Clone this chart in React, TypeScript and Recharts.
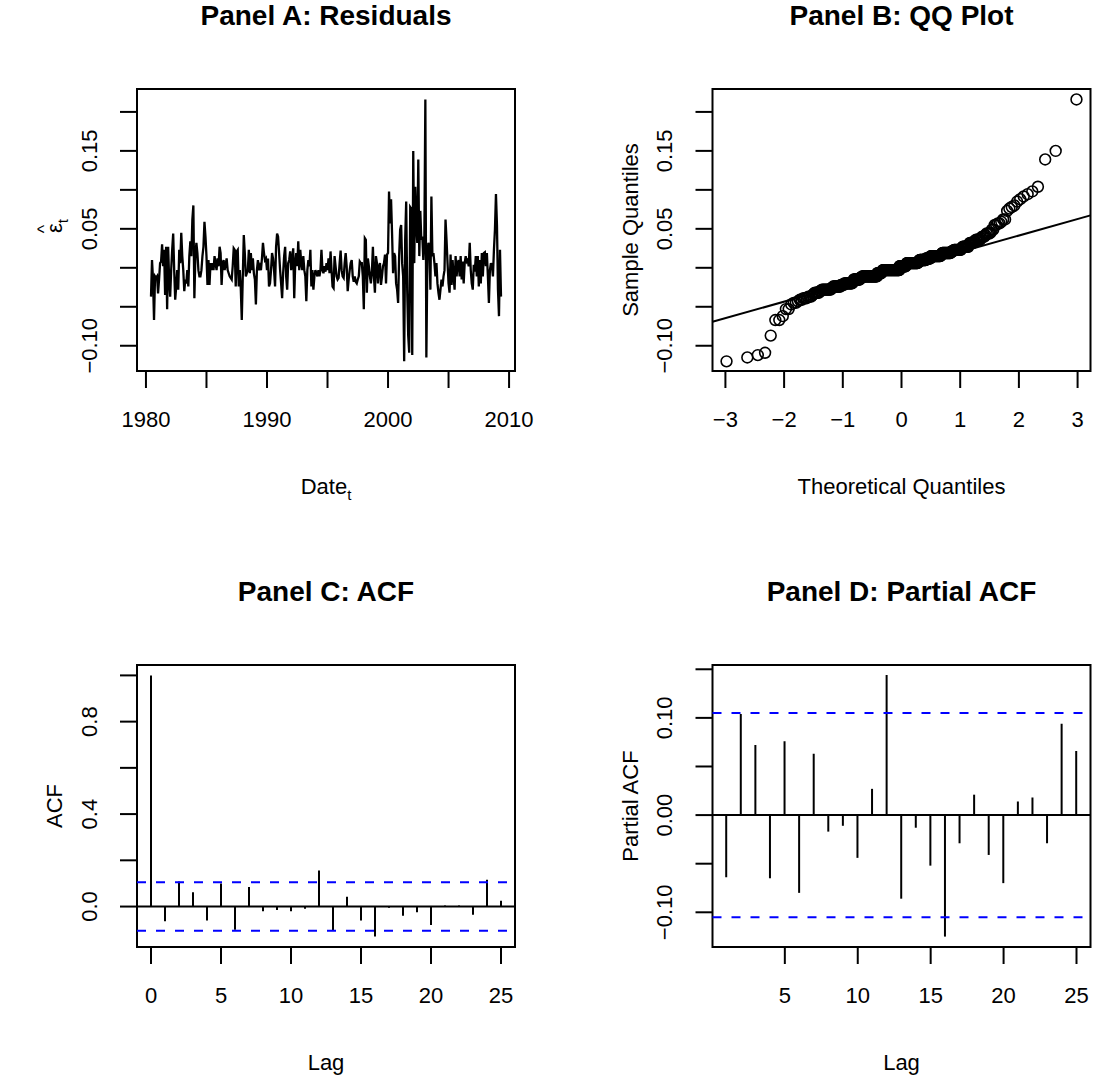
import React from 'react';
import {
  LineChart, Line, XAxis, YAxis, ReferenceArea, ReferenceLine,
  ScatterChart, Scatter, ComposedChart, Bar,
} from 'recharts';

// monthly residuals, Jun 1980 - Mar 1995
const residualsEarly = [
  -0.037, 0.010, -0.015, -0.067, -0.011, -0.013, -0.011, -0.033, -0.015, 0.006, 0.008, 0.030,
  0.002, 0.023, -0.035, 0.027, -0.053, 0.027, -0.015, -0.037, -0.003, 0.023, 0.044, -0.003,
  -0.041, -0.024, -0.003, -0.028, 0.023, 0.006, 0.045, 0.015, -0.003, -0.030, -0.015, -0.020,
  -0.003, -0.024, 0.015, 0.034, 0.015, 0.062, 0.080, -0.039, 0.015, 0.032, 0.019, -0.003,
  -0.011, -0.011, -0.003, 0.015, 0.027, 0.059, 0.040, 0.015, -0.022, 0.010, -0.022, 0.006,
  -0.003, 0.006, -0.003, 0.015, 0.006, -0.003, 0.012, 0.002, 0.027, 0.019, -0.022, 0.006,
  0.010, -0.003, 0.004, 0.012, -0.003, -0.007, -0.011, -0.013, -0.015, 0.002, 0.025, 0.023,
  -0.024, 0.021, 0.023, -0.024, -0.003, -0.026, -0.067, -0.011, 0.042, 0.019, -0.011, -0.007,
  -0.003, 0.023, -0.007, 0.019, -0.003, 0.012, -0.007, -0.015, -0.047, -0.003, 0.010, -0.003,
  0.002, -0.003, 0.012, 0.032, 0.019, 0.010, 0.012, -0.003, 0.012, -0.024, -0.020, -0.003,
  0.019, 0.012, -0.003, -0.024, 0.027, 0.044, 0.040, 0.019, -0.003, -0.020, -0.039, -0.007,
  0.015, 0.027, -0.011, -0.028, 0.006, 0.010, 0.021, -0.003, 0.012, 0.025, -0.039, 0.006,
  0.019, 0.002, 0.034, -0.003, 0.023, 0.006, -0.003, 0.015, -0.003, -0.011, -0.043, -0.003,
  0.010, 0.002, 0.023, -0.024, -0.003, -0.028, -0.011, -0.003, -0.007, -0.011, -0.003, -0.011,
  -0.003, 0.023, -0.003, -0.007, 0.002, -0.005, 0.006, -0.003, 0.012, -0.007, 0.021, -0.003,
];

// monthly residuals, Apr 1995 - May 2009
const residualsLate = [
  -0.024, -0.026, 0.015, 0.002, -0.011, -0.015, -0.013, 0.006, 0.022, -0.003, -0.011, -0.013,
  0.006, 0.019, 0.002, -0.030, -0.015, -0.003, 0.006, 0.010, -0.011, -0.018, -0.011, -0.018,
  -0.020, -0.015, -0.011, 0.008, 0.006, 0.006, -0.011, -0.053, 0.038, 0.036, -0.032, 0.012,
  0.002, -0.011, -0.020, -0.005, 0.027, -0.011, -0.032, 0.015, 0.006, -0.020, 0.002, 0.006,
  -0.022, -0.011, 0.002, 0.006, 0.017, -0.020, 0.017, 0.019, 0.098, 0.057, 0.088, 0.044,
  -0.007, 0.019, 0.015, -0.020, -0.028, -0.045, 0.015, 0.049, 0.055, 0.006, -0.011, -0.120,
  0.036, 0.085, -0.028, -0.087, -0.109, 0.078, 0.076, -0.112, 0.150, 0.006, 0.104, 0.057,
  0.032, 0.139, 0.015, 0.073, 0.036, 0.040, 0.010, 0.036, 0.216, -0.115, 0.010, 0.032,
  0.027, -0.028, 0.0915, 0.015, 0.019, 0.006, -0.011, 0.006, -0.020, -0.032, -0.041, -0.028,
  -0.015, -0.024, -0.011, -0.003, 0.062, 0.036, 0.006, -0.020, -0.032, 0.017, -0.022, 0.010,
  -0.011, -0.028, 0.015, -0.011, 0.006, 0.010, -0.011, 0.015, -0.015, 0.008, -0.020, 0.006,
  0.015, 0.008, 0.010, 0.002, 0.032, -0.003, -0.020, -0.028, 0.004, -0.005, 0.015, -0.011,
  0.015, -0.024, 0.010, -0.020, 0.019, -0.011, 0.019, 0.020, 0.002, 0.019, -0.011, -0.045,
  -0.003, 0.006, 0.002, -0.011, 0.023, 0.049, 0.0945, 0.055, -0.028, -0.062, 0.023, -0.037,
];

const seriesStart = 1980 + 5 / 12;

const acfLags = [0, 1, 2, 3, 4, 5, 6, 7, 8, 9, 10, 11, 12, 13, 14, 15, 16, 17, 18, 19, 20, 21, 22, 23, 24, 25];
const acfValues = [
  1.0, -0.064, 0.108, 0.062, -0.06, 0.1, -0.1, 0.085, -0.02, -0.015, -0.02, -0.01, 0.156,
  -0.105, 0.042, -0.06, -0.13, -0.005, -0.04, -0.025, -0.08, 0.004, 0.005, -0.035, 0.116, 0.025,
];
const pacfLags = [1, 2, 3, 4, 5, 6, 7, 8, 9, 10, 11, 12, 13, 14, 15, 16, 17, 18, 19, 20, 21, 22, 23, 24, 25];
const pacfValues = [
  -0.064, 0.104, 0.072, -0.065, 0.076, -0.08, 0.063, -0.017, -0.011, -0.044, 0.027, 0.144,
  -0.086, -0.013, -0.052, -0.125, -0.029, 0.021, -0.041, -0.07, 0.014, 0.018, -0.029, 0.094, 0.066,
];
const ciBound = 0.105;

// qqline
const qqLineIntercept = -0.001;
const qqLineSlope = 0.0212;

const yearTicks = [1980, 1985, 1990, 1995, 2000, 2005, 2010];
const yearLabels: [number, string][] = [[1980, '1980'], [1990, '1990'], [2000, '2000'], [2010, '2010']];
const residTicks = [-0.1, -0.05, 0, 0.05, 0.1, 0.15, 0.2];
const residLabels: [number, string][] = [[-0.1, '\u22120.10'], [0.05, '0.05'], [0.15, '0.15']];
const qqTicks = [-3, -2, -1, 0, 1, 2, 3];
const qqLabels: [number, string][] = qqTicks.map((t) => [t, t < 0 ? '\u2212' + Math.abs(t) : String(t)]);
const acfTicks = [0, 0.2, 0.4, 0.6, 0.8, 1.0];
const acfLabels: [number, string][] = [[0, '0.0'], [0.4, '0.4'], [0.8, '0.8']];
const pacfTicks = [-0.1, -0.05, 0, 0.05, 0.1, 0.15];
const pacfLabels: [number, string][] = [[-0.1, '\u22120.10'], [0, '0.00'], [0.1, '0.10']];
const lagTicksC = [0, 5, 10, 15, 20, 25];
const lagTicksD = [5, 10, 15, 20, 25];
const lagLabelsC: [number, string][] = lagTicksC.map((t) => [t, String(t)]);
const lagLabelsD: [number, string][] = lagTicksD.map((t) => [t, String(t)]);

// inverse normal cdf (Acklam) for the theoretical quantiles
function qnorm(p: number) {
  const a = [-39.69683028665376, 220.9460984245205, -275.9285104469687, 138.357751867269, -30.66479806614716, 2.506628277459239];
  const b = [-54.47609879822406, 161.5858368580409, -155.6989798598866, 66.80131188771972, -13.28068155288572];
  const c = [-0.007784894002430293, -0.3223964580411365, -2.400758277161838, -2.549732539343734, 4.374664141464968, 2.938163982698783];
  const d = [0.007784695709041462, 0.3224671290700398, 2.445134137142996, 3.754408661907416];
  const lo = 0.02425;
  if (p < lo || p > 1 - lo) {
    const q = Math.sqrt(-2 * Math.log(p < lo ? p : 1 - p));
    const v = (((((c[0] * q + c[1]) * q + c[2]) * q + c[3]) * q + c[4]) * q + c[5]) /
      ((((d[0] * q + d[1]) * q + d[2]) * q + d[3]) * q + 1);
    return p < lo ? v : -v;
  }
  const q = p - 0.5;
  const r = q * q;
  return (((((a[0] * r + a[1]) * r + a[2]) * r + a[3]) * r + a[4]) * r + a[5]) * q /
    (((((b[0] * r + b[1]) * r + b[2]) * r + b[3]) * r + b[4]) * r + 1);
}

const residuals = [...residualsEarly, ...residualsLate];
const residualData = residuals.map((v, i) => ({ t: seriesStart + i / 12, value: v }));
const sortedRes = [...residuals].sort((x, y) => x - y);
const qqData = sortedRes.map((v, i) => ({ x: qnorm((i + 0.5) / sortedRes.length), y: v }));
const acfData = acfLags.map((lag, i) => ({ lag, value: acfValues[i] }));
const pacfData = pacfLags.map((lag, i) => ({ lag, value: pacfValues[i] }));

const FONT = '"Liberation Sans", Arial, Helvetica, sans-serif';
const TICK_FS = 22;
const LAB_FS = 22;
const TITLE_FS = 28;
const BLUE = '#0000FF';

const residDomain = [-0.1324, 0.2294];
const yearDomain = [1979.26, 2010.49];
const qqDomain = [-3.22, 3.22];
const acfDomain = [-0.175, 1.045];
const pacfDomain = [-0.1357, 0.1544];

function findLabel(labels: [number, string][], v: number) {
  const hit = labels.find(([t]) => Math.abs(t - v) < 1e-9);
  return hit ? hit[1] : null;
}

function xTick(labels: [number, string][], baseline: number) {
  return (props: any) => {
    const lab = findLabel(labels, props.payload.value);
    if (!lab) return <g />;
    return (
      <text x={props.x} y={baseline} textAnchor="middle" fontSize={TICK_FS} fontFamily={FONT} fill="#000">
        {lab}
      </text>
    );
  };
}

function yTick(labels: [number, string][], xBase: number) {
  return (props: any) => {
    const lab = findLabel(labels, props.payload.value);
    if (!lab) return <g />;
    return (
      <text
        x={xBase}
        y={props.y}
        transform={`rotate(-90 ${xBase} ${props.y})`}
        textAnchor="middle"
        fontSize={TICK_FS}
        fontFamily={FONT}
        fill="#000"
      >
        {lab}
      </text>
    );
  };
}

type Box = { l: number; t: number; r: number; b: number };
type Place = { left: number; top: number; width: number; height: number };

function frame(p: Place, box: Box) {
  return {
    margin: { top: box.t - p.top, right: p.left + p.width - box.r, bottom: 0, left: 0 },
    yWidth: box.l - p.left,
    xHeight: p.top + p.height - box.b,
    xBase: box.b - p.top + 56,
    yBase: box.l - p.left - 40,
  };
}

const tickLine = { stroke: '#000', strokeWidth: 2 };

const placeA = { left: 0, top: 0, width: 547, height: 538 };
const placeB = { left: 547, top: 0, width: 547, height: 538 };
const placeC = { left: 0, top: 538, width: 547, height: 539 };
const placeD = { left: 547, top: 538, width: 547, height: 539 };
const boxA = { l: 137, t: 89, r: 515, b: 371 };
const boxB = { l: 712.5, t: 89, r: 1090.5, b: 371 };
const boxC = { l: 137, t: 665, r: 515, b: 947 };
const boxD = { l: 712.5, t: 665, r: 1090.5, b: 947 };

function abs(p: Place): React.CSSProperties {
  return { position: 'absolute', left: p.left, top: p.top };
}

function PanelA() {
  const f = frame(placeA, boxA);
  return (
    <div style={abs(placeA)}>
      <LineChart width={placeA.width} height={placeA.height} data={residualData} margin={f.margin}>
        <XAxis type="number" dataKey="t" domain={yearDomain} allowDataOverflow ticks={yearTicks}
          height={f.xHeight} axisLine={false} tickLine={tickLine} tickSize={17} tick={xTick(yearLabels, f.xBase)} />
        <YAxis type="number" domain={residDomain} allowDataOverflow ticks={residTicks}
          width={f.yWidth} axisLine={false} tickLine={tickLine} tickSize={17} tick={yTick(residLabels, f.yBase)} />
        <Line type="linear" dataKey="value" stroke="#000" strokeWidth={2.3} dot={false} isAnimationActive={false} />
        <ReferenceArea x1={yearDomain[0]} x2={yearDomain[1]} y1={residDomain[0]} y2={residDomain[1]}
          fill="none" fillOpacity={0} stroke="#000" strokeWidth={2} ifOverflow="visible" />
      </LineChart>
    </div>
  );
}

function PanelB() {
  const f = frame(placeB, boxB);
  return (
    <div style={abs(placeB)}>
      <ScatterChart width={placeB.width} height={placeB.height} margin={f.margin}>
        <XAxis type="number" dataKey="x" domain={qqDomain} allowDataOverflow ticks={qqTicks}
          height={f.xHeight} axisLine={false} tickLine={tickLine} tickSize={17} tick={xTick(qqLabels, f.xBase)} />
        <YAxis type="number" dataKey="y" domain={residDomain} allowDataOverflow ticks={residTicks}
          width={f.yWidth} axisLine={false} tickLine={tickLine} tickSize={17} tick={yTick(residLabels, f.yBase)} />
        <Scatter data={qqData} isAnimationActive={false}
          shape={(p: any) => <circle cx={p.cx} cy={p.cy} r={5.4} fill="none" stroke="#000" strokeWidth={1.6} />} />
        <ReferenceLine
          segment={[
            { x: qqDomain[0], y: qqLineIntercept + qqLineSlope * qqDomain[0] },
            { x: qqDomain[1], y: qqLineIntercept + qqLineSlope * qqDomain[1] },
          ]}
          stroke="#000" strokeWidth={2} ifOverflow="visible" />
        <ReferenceArea x1={qqDomain[0]} x2={qqDomain[1]} y1={residDomain[0]} y2={residDomain[1]}
          fill="none" fillOpacity={0} stroke="#000" strokeWidth={2} ifOverflow="visible" />
      </ScatterChart>
    </div>
  );
}

function CorrPanel(props: {
  place: Place; box: Box; data: { lag: number; value: number }[]; xDomain: number[]; yDomain: number[];
  xTicks: number[]; xLabels: [number, string][]; yTicks: number[]; yLabels: [number, string][];
}) {
  const { place, box } = props;
  const f = frame(place, box);
  return (
    <div style={abs(place)}>
      <ComposedChart width={place.width} height={place.height} data={props.data} margin={f.margin}>
        <XAxis type="number" dataKey="lag" domain={props.xDomain} allowDataOverflow ticks={props.xTicks}
          height={f.xHeight} axisLine={false} tickLine={tickLine} tickSize={17} tick={xTick(props.xLabels, f.xBase)} />
        <YAxis type="number" domain={props.yDomain} allowDataOverflow ticks={props.yTicks}
          width={f.yWidth} axisLine={false} tickLine={tickLine} tickSize={17} tick={yTick(props.yLabels, f.yBase)} />
        <Bar dataKey="value" fill="#000" barSize={2} isAnimationActive={false} />
        <ReferenceLine y={0} stroke="#000" strokeWidth={2} />
        <ReferenceLine y={ciBound} stroke={BLUE} strokeWidth={2} strokeDasharray="9 10" />
        <ReferenceLine y={-ciBound} stroke={BLUE} strokeWidth={2} strokeDasharray="9 10" />
        <ReferenceArea x1={props.xDomain[0]} x2={props.xDomain[1]} y1={props.yDomain[0]} y2={props.yDomain[1]}
          fill="none" fillOpacity={0} stroke="#000" strokeWidth={2} ifOverflow="visible" />
      </ComposedChart>
    </div>
  );
}

function Texts() {
  const cxL = (boxA.l + boxA.r) / 2;
  const cxR = (boxB.l + boxB.r) / 2;
  const cyTop = (boxA.t + boxA.b) / 2;
  const cyBot = (boxC.t + boxC.b) / 2;
  const title = (x: number, y: number, s: string) => (
    <text x={x} y={y} textAnchor="middle" fontSize={TITLE_FS} fontWeight="bold" fontFamily={FONT}>{s}</text>
  );
  const xlab = (x: number, y: number, s: string) => (
    <text x={x} y={y} textAnchor="middle" fontSize={LAB_FS} fontFamily={FONT}>{s}</text>
  );
  const ylab = (x: number, y: number, s: string) => (
    <text x={x} y={y} transform={`rotate(-90 ${x} ${y})`} textAnchor="middle" fontSize={LAB_FS} fontFamily={FONT}>{s}</text>
  );
  return (
    <svg width={1094} height={1077} style={{ position: 'absolute', left: 0, top: 0, pointerEvents: 'none' }}>
      {title(cxL, boxA.t - 64, 'Panel A: Residuals')}
      {title(cxR, boxB.t - 64, 'Panel B: QQ Plot')}
      {title(cxL, boxC.t - 64, 'Panel C: ACF')}
      {title(cxR, boxD.t - 64, 'Panel D: Partial ACF')}
      <text x={cxL} y={boxA.b + 123} textAnchor="middle" fontSize={LAB_FS} fontFamily={FONT}>
        Date<tspan dy={6} fontSize={15}>t</tspan>
      </text>
      {xlab(cxR, boxB.b + 123, 'Theoretical Quantiles')}
      {xlab(cxL, boxC.b + 123, 'Lag')}
      {xlab(cxR, boxD.b + 123, 'Lag')}
      <g transform={`translate(${boxA.l - 75} ${cyTop - 4}) rotate(-90)`}>
        <text x={0} y={0} textAnchor="middle" fontSize={LAB_FS} fontFamily={FONT}>
          {'\u03b5'}<tspan dy={6} fontSize={15}>t</tspan>
        </text>
        <text x={-3} y={-12} textAnchor="middle" fontSize={18} fontFamily={FONT}>^</text>
      </g>
      {ylab(boxB.l - 75, cyTop, 'Sample Quantiles')}
      {ylab(boxC.l - 75, cyBot, 'ACF')}
      {ylab(boxD.l - 75, cyBot, 'Partial ACF')}
    </svg>
  );
}

export default function App() {
  return (
    <div style={{ position: 'absolute', left: 0, top: 0, width: 1094, height: 1077, background: '#fff' }}>
      <PanelA />
      <PanelB />
      <CorrPanel place={placeC} box={boxC} data={acfData} xDomain={[-1, 26]} yDomain={acfDomain}
        xTicks={lagTicksC} xLabels={lagLabelsC} yTicks={acfTicks} yLabels={acfLabels} />
      <CorrPanel place={placeD} box={boxD} data={pacfData} xDomain={[0.04, 25.96]} yDomain={pacfDomain}
        xTicks={lagTicksD} xLabels={lagLabelsD} yTicks={pacfTicks} yLabels={pacfLabels} />
      <Texts />
    </div>
  );
}
